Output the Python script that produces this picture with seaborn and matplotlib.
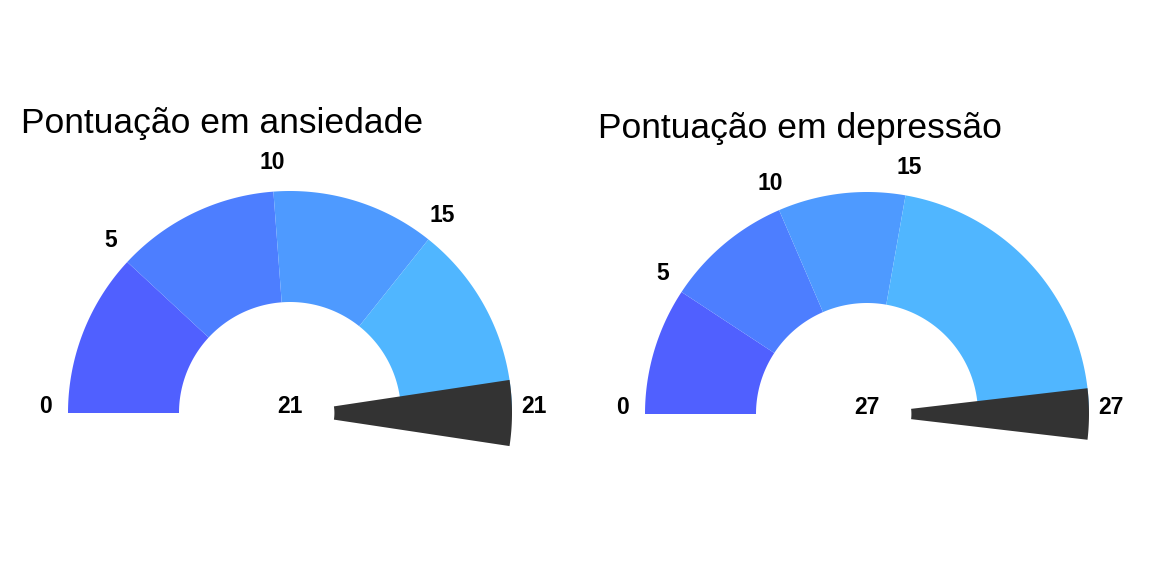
import numpy as np
import matplotlib.pyplot as plt
import seaborn as sns

titles = ["Pontuação em ansiedade", "Pontuação em depressão"]
anx_breaks = [0, 5, 10, 15, 21]
dep_breaks = [0, 5, 10, 15, 27]
anx_score = 21
dep_score = 27
band_colors = ["#5060FF", "#4D7EFF", "#4E9AFF", "#50B6FF"]
needle_color = "#333333"

sns.set_theme(style="white")
plt.rcParams['font.family'] = ['Liberation Sans', 'DejaVu Sans']

W, H, DPI = 1152, 576, 100
R = 222  # pixels per data unit (gauge radius)
centers = [(290, 413), (867, 414)]


def arc(a, b, top, r1=0.5, r2=1.0):
    th = np.linspace(np.pi * (1 - a / top), np.pi * (1 - b / top), 100)
    x = np.concatenate([r1 * np.cos(th), r2 * np.cos(th[::-1])])
    y = np.concatenate([r1 * np.sin(th), r2 * np.sin(th[::-1])])
    return x, y


fig = plt.figure(figsize=(W / DPI, H / DPI), dpi=DPI)
fig.patch.set_facecolor('white')

for (cx, cy), title, breaks, score in zip(centers, titles,
                                          [anx_breaks, dep_breaks],
                                          [anx_score, dep_score]):
    top = breaks[-1]
    polys = [arc(breaks[i], breaks[i + 1], top) for i in range(len(breaks) - 1)]
    needle = arc(score - 1, score + 1, top, r1=0.2)
    ang = np.pi * (1 - np.array(breaks) / top)
    lx, ly = 1.1 * np.cos(ang), 1.1 * np.sin(ang)

    # ggplot-like limits: all geoms + 5% expansion
    allx = np.concatenate([p[0] for p in polys] + [needle[0], lx, [0]])
    ally = np.concatenate([p[1] for p in polys] + [needle[1], ly, [0]])
    xlo, xhi = allx.min(), allx.max()
    ylo, yhi = ally.min(), ally.max()
    dx, dy = 0.05 * (xhi - xlo), 0.05 * (yhi - ylo)
    xlo, xhi, ylo, yhi = xlo - dx, xhi + dx, ylo - dy, yhi + dy

    left = (cx + xlo * R) / W
    bottom = (H - (cy - ylo * R)) / H
    ax = fig.add_axes([left, bottom, (xhi - xlo) * R / W, (yhi - ylo) * R / H])
    ax.set_xlim(xlo, xhi)
    ax.set_ylim(ylo, yhi)

    for (px, py), c in zip(polys, band_colors):
        ax.fill(px, py, color=c, lw=0)
    ax.fill(needle[0], needle[1], color=needle_color, lw=0)

    for x, y, b in zip(lx, ly, breaks):
        ax.text(x, y, str(b), ha='center', va='baseline',
                fontsize=16.5, fontweight='bold', color='black')
    ax.text(0, 0, str(score), ha='center', va='baseline',
            fontsize=16.5, fontweight='bold', color='black')

    ax.set_title(title, loc='left', fontsize=25.5, pad=16, color='black')
    ax.axis('off')

fig.savefig('out.png', dpi=DPI, facecolor='white')
